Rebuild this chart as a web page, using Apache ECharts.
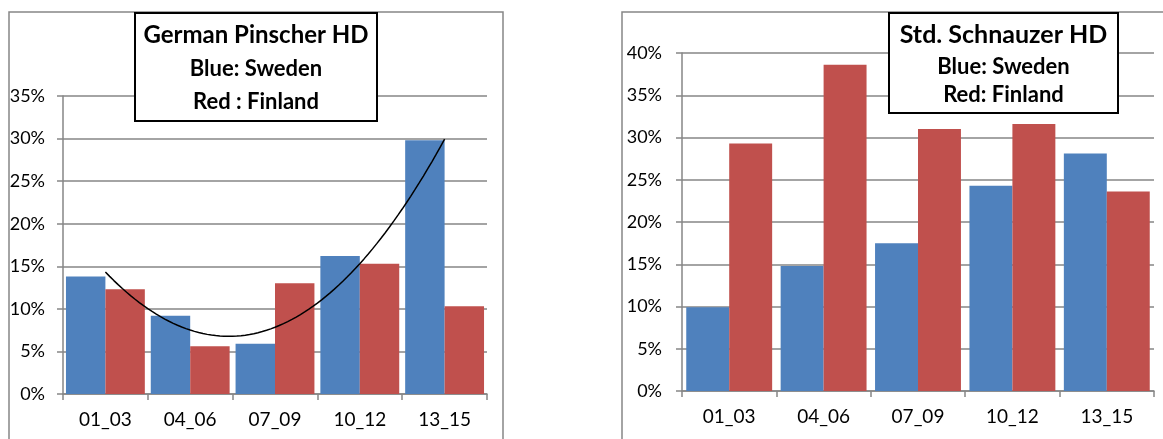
<!DOCTYPE html>
<html>
<head>
<meta charset="utf-8">
<script src="https://cdn.jsdelivr.net/npm/echarts@6/dist/echarts.min.js"></script>
<style>
  html, body { margin: 0; padding: 0; background: #fff; }
  #chart { width: 1163px; height: 439px; }
</style>
</head>
<body>
<div id="chart"></div>
<script>
// ---- data ----
const categories = ['01_03', '04_06', '07_09', '10_12', '13_15'];
const pinscherSweden = [13.8, 9.2, 5.9, 16.2, 29.8];
const pinscherFinland = [12.3, 5.6, 13.0, 15.3, 10.3];
const schnauzerSweden = [9.9, 14.8, 17.5, 24.3, 28.1];
const schnauzerFinland = [29.3, 38.6, 31.0, 31.6, 23.6];
const pinscherTitle = ['German Pinscher HD', 'Blue: Sweden', 'Red : Finland'];
const schnauzerTitle = ['Std. Schnauzer HD', 'Blue: Sweden', 'Red: Finland'];

// 2nd-order polynomial trendline (least squares) on the Swedish pinscher series
function quadFit(ys) {
  let S = [0, 0, 0, 0, 0], T = [0, 0, 0];
  ys.forEach((y, i) => {
    const x = i + 1;
    for (let k = 0; k < 5; k++) S[k] += Math.pow(x, k);
    for (let k = 0; k < 3; k++) T[k] += y * Math.pow(x, k);
  });
  const M = [[S[0], S[1], S[2], T[0]], [S[1], S[2], S[3], T[1]], [S[2], S[3], S[4], T[2]]];
  for (let c = 0; c < 3; c++) {
    for (let r = c + 1; r < 3; r++) {
      const f = M[r][c] / M[c][c];
      for (let k = c; k < 4; k++) M[r][k] -= f * M[c][k];
    }
  }
  const coef = [0, 0, 0];
  for (let r = 2; r >= 0; r--) {
    let s = M[r][3];
    for (let k = r + 1; k < 3; k++) s -= M[r][k] * coef[k];
    coef[r] = s / M[r][r];
  }
  return coef;
}
const fit = quadFit(pinscherSweden);
const trend = [];
for (let x = 1; x <= categories.length + 1e-9; x += 0.05) {
  trend.push([x, fit[0] + fit[1] * x + fit[2] * x * x]);
}

const FONT = 'Lato, "Open Sans", sans-serif';
const GRID_COLOR = '#868686';
const BLUE = '#4F81BD';
const RED = '#C0504D';

function xAxisCfg(gridIndex) {
  return {
    type: 'category', gridIndex: gridIndex, data: categories,
    axisLine: { lineStyle: { color: GRID_COLOR, width: 1.5 } },
    axisTick: { show: true, length: 6, lineStyle: { color: GRID_COLOR, width: 1.5 } },
    axisLabel: { color: '#000', fontFamily: FONT, fontSize: 19, margin: 16 }
  };
}
function yAxisCfg(gridIndex, max, margin) {
  return {
    type: 'value', gridIndex: gridIndex, min: 0, max: max, interval: 5,
    axisLine: { show: true, lineStyle: { color: GRID_COLOR, width: 1.5 } },
    axisTick: { show: true, length: 6, lineStyle: { color: GRID_COLOR, width: 1.5 } },
    splitLine: { lineStyle: { color: GRID_COLOR, width: 1.5 } },
    axisLabel: { color: '#000', fontFamily: FONT, fontSize: 18, margin: margin, formatter: '{value}%' }
  };
}

function titleBox(x, y, w, h, lines, ys, mainSize) {
  const els = [{
    type: 'rect', shape: { x: x, y: y, width: w, height: h },
    style: { fill: '#fff', stroke: '#000', lineWidth: 2 }, z: 10
  }];
  lines.forEach((t, i) => {
    els.push({
      type: 'text', z: 11,
      style: {
        text: t, x: x + w / 2, y: ys[i], textAlign: 'center', textVerticalAlign: 'middle',
        font: 'bold ' + (i === 0 ? mainSize : 22) + 'px ' + FONT, fill: '#000'
      }
    });
  });
  return els;
}

const chart = echarts.init(document.getElementById('chart'), null, { renderer: 'canvas' });
chart.setOption({
  animation: false,
  backgroundColor: '#fff',
  grid: [
    { left: 63, top: 96, width: 424, height: 298 },
    { left: 682, top: 53, width: 472, height: 338 }
  ],
  xAxis: [
    xAxisCfg(0),
    xAxisCfg(1),
    { type: 'value', gridIndex: 0, min: 0.5, max: categories.length + 0.5, show: false }
  ],
  yAxis: [yAxisCfg(0, 35, 18), yAxisCfg(1, 40, 20)],
  series: [
    { type: 'bar', xAxisIndex: 0, yAxisIndex: 0, data: pinscherSweden, itemStyle: { color: BLUE }, barGap: '0%', barCategoryGap: '7%' },
    { type: 'bar', xAxisIndex: 0, yAxisIndex: 0, data: pinscherFinland, itemStyle: { color: RED }, barGap: '0%', barCategoryGap: '7%' },
    { type: 'line', xAxisIndex: 2, yAxisIndex: 0, data: trend, showSymbol: false, symbol: 'none',
      lineStyle: { color: '#000', width: 1.5 }, z: 5 },
    { type: 'bar', xAxisIndex: 1, yAxisIndex: 1, data: schnauzerSweden, itemStyle: { color: BLUE }, barGap: '0%', barCategoryGap: '9%' },
    { type: 'bar', xAxisIndex: 1, yAxisIndex: 1, data: schnauzerFinland, itemStyle: { color: RED }, barGap: '0%', barCategoryGap: '9%' }
  ],
  graphic: [
    { type: 'rect', shape: { x: 9, y: 12, width: 494, height: 460 }, style: { fill: 'none', stroke: GRID_COLOR, lineWidth: 1.5 }, z: 1 },
    { type: 'rect', shape: { x: 622, y: 12, width: 600, height: 460 }, style: { fill: 'none', stroke: GRID_COLOR, lineWidth: 1.5 }, z: 1 }
  ].concat(
    titleBox(135, 13, 242, 108, pinscherTitle, [35, 68.5, 101.5], 24),
    titleBox(889, 13, 229, 100, schnauzerTitle, [34.5, 67, 95], 25)
  )
});
</script>
</body>
</html>
